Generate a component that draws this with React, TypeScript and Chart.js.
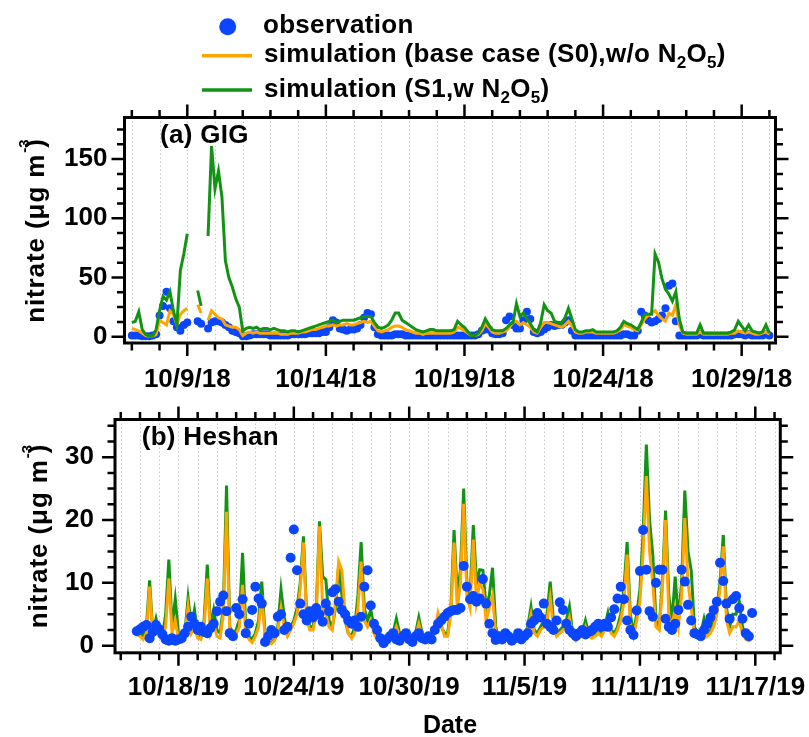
import React, { useEffect, useRef } from "react";
import { Chart, registerables } from "chart.js";

Chart.register(...registerables);

const FONT_FAMILY = "'Liberation Sans', Arial, Helvetica, sans-serif";
const BLUE = "#0a46ff";
const ORANGE = "#ffa500";
const GREEN = "#139313";

// ---------------- Panel (a) GIG : x = day of October 2018, 3-hourly from 10/7 00:00
const gigStartDay = 7;
const gigStepDays = 1 / 8;
const gigObs = [
  1, 1, 1, 0.5, 0.5, 0.5, 1, 2,
  18, 26, 38, 24, 13, 8, 5, 10,
  12, null, null, 13, 11, null, 7, 12,
  13, 13, 12, 10, 8, 5, 4, 3,
  0.5, 0.5, 1, 2, 2, 2, 2, 2,
  1, 1, 1, 1, 1, 1, 2, 2,
  2, 2, 2, 3, 3, 3, 3, 4,
  4, 8, 14, 12, 7, 6, 5, 6,
  6, 7, 10, 16, 20, 19, 8, 2,
  1, 1, 1, 1, 2, 2, 2, 1,
  1, 1, 1, 1, 1, 1, 1, 1,
  1, 1, 1, 1, 1, 1, 1, 1,
  1, 1, 1, 1, 2, 5, 6, 6,
  3, 2, 2, 3, 14, 17, 10, 7,
  7, 14, 21, 15, 4, 3, 4, 6,
  8, 10, 9, 10, 10, 12, 14, 5,
  1, 1, 1, 1, 1, 1, 1, 1,
  1, 1, 1, 1, 1, 1, 2, 2,
  1, 1, 5, 21, 18, 14, 12, 13,
  15, 18, 24, 43, 45, 13, 1, 1,
  1, 1, 1, 1, 2, 1, 1, 1,
  1, 1, 1, 1, 1, 1, 2, 2,
  2, 1, 2, 1, 1, 1, 1, 2,
  1,
];
const gigS0 = [
  7, 6, 5, 3, 1, 0.5, 0.5, 2,
  14, 12, 10, 22, 19, 10, 19, 22,
  24, null, null, 27, 20, null, 14, 22,
  19, 16, 15, 10, 9, 8, 8, 6,
  1, 3, 4, 3, 4, 3, 3, 3,
  3, 3, 3, 2, 2, 2, 3, 3,
  3, 4, 4, 5, 6, 6, 7, 8,
  9, 9, 10, 9, 10, 10, 11, 10,
  10, 11, 12, 13, 12, 13, 9, 5,
  4, 5, 6, 8, 9, 9, 8, 6,
  5, 4, 3, 3, 2, 3, 3, 3,
  3, 3, 3, 3, 3, 4, 8, 7,
  5, 3, 1, 1, 2, 5, 11, 8,
  4, 3, 3, 4, 5, 8, 12, 13,
  10, 12, 10, 8, 4, 3, 8, 12,
  12, 11, 10, 9, 8, 10, 13, 9,
  4, 3, 3, 4, 4, 4, 3, 3,
  3, 3, 3, 3, 4, 6, 10, 9,
  8, 6, 5, 10, 15, 18, 20, 22,
  18, 15, 13, 20, 18, 27, 10, 3,
  2, 2, 2, 2, 4, 2, 2, 2,
  2, 2, 2, 2, 2, 3, 3, 5,
  4, 3, 4, 3, 2, 2, 3, 4,
  2,
];
const gigS1 = [
  12, 13, 21, 6, 2, 0.5, 0.5, 6,
  22, 34, 31, 38, 22, 10, 56, 70,
  87, null, null, 39, 26, null, 85, 161,
  125, 140, 118, 64, 50, 42, 32, 25,
  5, 7, 8, 7, 8, 6, 7, 7,
  6, 7, 6, 5, 5, 4, 5, 5,
  4, 5, 6, 7, 8, 9, 10, 11,
  12, 13, 14, 12, 13, 14, 14, 14,
  14, 15, 16, 17, 17, 17, 12, 8,
  7, 8, 10, 14, 20, 20, 14, 12,
  10, 8, 6, 5, 4, 5, 6, 6,
  5, 5, 5, 5, 5, 6, 13, 10,
  8, 4, 1, 1, 3, 8, 15, 10,
  6, 5, 5, 5, 7, 10, 12, 28,
  17, 20, 15, 11, 6, 4, 12, 27,
  22, 20, 13, 12, 11, 16, 24, 15,
  6, 4, 4, 5, 5, 6, 4, 4,
  4, 4, 4, 4, 5, 8, 13, 11,
  10, 8, 6, 12, 19, 19, 19, 70,
  63, 49, 40, 36, 30, 38, 15, 4,
  3, 3, 3, 3, 10, 3, 3, 3,
  3, 3, 3, 3, 3, 4, 6, 13,
  9, 5, 10, 5, 4, 3, 4, 10,
  3,
];
const gigTimes = gigObs.map((_, i) => gigStartDay + i * gigStepDays);
const gigXTickDays = [9, 14, 19, 24, 29];
const gigXTickLabels = ["10/9/18", "10/14/18", "10/19/18", "10/24/18", "10/29/18"];
const gigXMinorDays = [7, 8, 9, 10, 11, 12, 13, 14, 15, 16, 17, 18, 19, 20, 21, 22, 23, 24, 25, 26, 27, 28, 29, 30];
const gigYTicks = [0, 50, 100, 150];
const gigYMinor = [0, 12.5, 25, 37.5, 50, 62.5, 75, 87.5, 100, 112.5, 125, 137.5, 150, 162.5, 175];

// ---------------- Panel (b) Heshan : x = day counted from 10/0/2019 (11/5 = 36), 4-hourly from 10/15 20:00
const heshanStartDay = 15 + 5 / 6;
const heshanStepDays = 1 / 6;
const heshanObs = [
  2.3,
  2.6, 3.0, 3.3, 1.2, 2.2, 3.3,
  2.6, 1.8, 1.0, 0.8, 1.2, 0.8,
  1.0, 1.2, 2.0, 3.0, 4.6, 3.5,
  2.5, 3.0, 2.2, 2.0, 2.8, 3.5,
  5.5, 7.0, 8.0, 5.5, 2.0, 1.5,
  6.0, 5.0, 7.4, 2.0, 3.5, 5.7,
  9.4, 7.5, 6.7, 0.6, 1.5, 2.5,
  2.0, 4.6, 5.0, 2.5, 3.0, 14.0,
  18.5, 12.0, 6.7, 5.0, 4.0, 5.5,
  4.5, 6.0, 5.0, 3.8, 6.7, 5.5,
  8.5, 9.0, 7.0, 5.7, 5.0, 4.0,
  3.5, 4.0, 3.0, 4.6, 9.4, 12.0,
  6.4, 3.5, 2.5, 1.2, 0.4, 1.0,
  1.5, 2.0, 1.0, 0.8, 1.5, 2.0,
  1.0, 0.6, 1.5, 2.0, 1.2, 1.0,
  1.5, 1.0, 2.5, 3.5, 4.0, 4.6,
  5.2, 5.5, 5.7, 5.7, 6.0, 12.7,
  9.4, 7.4, 7.9, 7.0, 7.5, 10.6,
  6.7, 3.5, 2.0, 0.9, 1.5, 1.0,
  2.0, 1.5, 0.8, 1.2, 2.0, 1.0,
  1.5, 2.0, 3.5, 4.0, 5.2, 4.5,
  6.7, 3.5, 3.0, 2.5, 4.0, 6.9,
  5.7, 3.5, 2.5, 2.0, 1.5, 2.0,
  2.5, 1.8, 2.2, 2.5, 3.0, 3.5,
  3.0, 3.5, 3.0, 4.5, 5.8, 7.5,
  9.4, 7.4, 4.0, 2.5, 1.7, 5.6,
  11.9, 18.4, 12.1, 5.5, 4.6, 10.0,
  12.1, 12.1, 4.3, 3.0, 2.5, 3.5,
  5.7, 12.1, 10.2, 6.5, 4.0, 2.0,
  1.8, 1.5, 2.5, 3.5, 4.5, 5.7,
  7.0, 13.2, 10.3, 6.7, 4.3, 7.4,
  7.9, 6.0, 4.3, 2.0, 1.5, 5.2,
  null,
];
const heshanS0 = [
  1.8,
  1.5, 1, 2, 9.4, 1.5, 3,
  1.5, 1, 3, 10.7, 2, 4,
  1, 0.6, 1.5, 6.2, 2, 3,
  1.2, 1, 3, 10.7, 2, 3.5,
  1.5, 1.2, 5, 21.3, 2, 1.5,
  1.8, 3, 9.7, 2, 1, 0.5,
  1.5, 3, 8, 1.5, 0.3, 0.3,
  0.8, 2.5, 6, 3, 1.5, 2.5,
  3.5, 5, 9, 16.4, 4, 2.5,
  2.5, 5, 19.0, 6, 5, 3,
  2.5, 7, 13.4, 12, 5, 2,
  1.2, 2, 6, 13.4, 4, 3,
  4, 2, 1, 0.4, 0.3, 1,
  1.2, 1.5, 3, 1.5, 0.8, 1,
  1.2, 0.8, 1.5, 3.5, 1.5, 0.8,
  1.2, 0.8, 2, 5.2, 3.5, 1.5,
  1.5, 5, 16.4, 6, 10, 22.6,
  8, 6, 16.9, 7, 10, 9,
  4, 6, 8, 2, 0.8, 0.6,
  0.8, 1.2, 0.8, 0.6, 1.2, 0.8,
  1.2, 2.5, 5, 2, 1.5, 2.5,
  3, 4, 7.6, 3, 1.5, 2,
  2.5, 3, 4.5, 1.5, 0.8, 1.2,
  1.5, 3, 1.5, 1.2, 1.5, 2,
  1.5, 2.5, 4, 2, 1.5, 2.5,
  4, 7, 14.5, 3, 1.5, 4,
  7, 15, 27, 15, 10, 3,
  2.5, 9, 20, 5, 3, 6,
  3, 8, 20.3, 10, 6, 2,
  1.5, 1.5, 3, 1.5, 2, 3,
  5, 9, 15.8, 4, 2, 3,
  3, 4, 2, 1, 0.8, 1.2,
  null,
];
const heshanS1 = [
  2.0,
  2.0, 1.5, 3, 10.4, 2, 4.3,
  2, 1.5, 5, 13.7, 3, 7.4,
  2, 1, 2, 7.6, 3, 5.7,
  2, 1.5, 4, 12.9, 3, 5.7,
  2.5, 2, 6, 25.5, 3, 2,
  2.5, 4, 14.8, 3, 1.5, 1,
  2, 4, 10.2, 2, 0.5, 0.5,
  1, 3, 8.9, 4.6, 2, 3,
  4, 6, 10, 17.4, 5, 3,
  3, 6, 19.8, 11, 10.5, 4,
  3, 6, 12.9, 8, 4, 2,
  1.5, 3, 8, 16.5, 6, 4,
  5.7, 3, 1.5, 0.6, 0.4, 1.5,
  1.5, 2, 4.3, 2, 1, 1.2,
  1.5, 1, 2, 4.5, 2, 1,
  1.5, 1, 2.5, 4, 3, 2,
  2, 6, 18.4, 8, 12, 25.0,
  10, 8, 19.2, 10, 12.1, 12,
  6, 8, 12.4, 3, 1, 0.8,
  1, 1.5, 1, 0.8, 1.5, 1,
  1.5, 3, 6.2, 2.5, 2, 3,
  4, 5, 10.2, 4, 2, 2.5,
  3, 4, 6.2, 2, 1, 1.5,
  2, 4, 2, 1.5, 2, 2.5,
  2, 3, 5.2, 2.5, 2, 3,
  5, 9, 16.5, 5, 2, 5,
  9, 18, 32, 20, 14.5, 4,
  3, 10, 21.5, 8, 4, 11,
  4, 10, 24.7, 15, 12, 3,
  2, 2, 4.3, 2, 2.5, 4,
  6, 10, 17.6, 6, 3, 5,
  5, 7, 3, 1.5, 1, 1.5,
  null,
];
const heshanTimes = heshanObs.map((_, i) => heshanStartDay + i * heshanStepDays);
const heshanXTickDays = [18, 24, 30, 36, 42, 48];
const heshanXTickLabels = ["10/18/19", "10/24/19", "10/30/19", "11/5/19", "11/11/19", "11/17/19"];
const heshanXMinorDays = [15, 16, 17, 18, 19, 20, 21, 22, 23, 24, 25, 26, 27, 28, 29, 30, 31, 32, 33, 34, 35, 36, 37, 38, 39, 40, 41, 42, 43, 44, 45, 46, 47, 48, 49];
const heshanYTicks = [0, 10, 20, 30];
const heshanYMinor = [0, 2.5, 5, 7.5, 10, 12.5, 15, 17.5, 20, 22.5, 25, 27.5, 30, 32.5, 35];

// ---------------- legend / titles text
const legendObs = "observation";
const legendS0 = "simulation (base case (S0),w/o N";
const legendS1 = "simulation (S1,w N";
const yTitleMain = "nitrate (\u03bcg m";
const yTitleSup = "-3";

function font(size: number) {
  return `bold ${size}px ${FONT_FAMILY}`;
}

type Part = { t: string; size: number; dy: number };

function drawParts(ctx: CanvasRenderingContext2D, parts: Part[], x: number, y: number) {
  let cx = x;
  for (const p of parts) {
    ctx.font = font(p.size);
    ctx.fillText(p.t, cx, y + p.dy);
    cx += ctx.measureText(p.t).width;
  }
}

function setSpacing(ctx: CanvasRenderingContext2D, px: number) {
  (ctx as any).letterSpacing = `${px}px`;
}

function drawYTitle(ctx: CanvasRenderingContext2D, baseX: number, centerY: number) {
  ctx.save();
  ctx.translate(baseX, centerY);
  ctx.rotate(-Math.PI / 2);
  ctx.fillStyle = "#000";
  ctx.textBaseline = "alphabetic";
  ctx.textAlign = "left";
  ctx.font = font(26);
  setSpacing(ctx, 0.9);
  const wMain = ctx.measureText(yTitleMain).width;
  const wParen = ctx.measureText(")").width;
  const total = wMain + 6 + wParen;
  const x0 = -total / 2;
  ctx.fillText(yTitleMain, x0, 0);
  ctx.fillText(")", x0 + wMain + 6, 0);
  setSpacing(ctx, 0);
  ctx.font = font(15);
  ctx.fillText(yTitleSup, x0 + wMain + 1, -15);
  ctx.restore();
}

type PanelSpec = {
  id: string;
  times: number[];
  obs: (number | null)[];
  s0: (number | null)[];
  s1: (number | null)[];
  xMin: number;
  xMax: number;
  yMin: number;
  yMax: number;
  xTicks: number[];
  xLabels: string[];
  xMinor: number[];
  yTicks: number[];
  yMinor: number[];
  xMajor: number[];
  padTop: number;
  padRight: number;
  yAxisWidth: number;
  xAxisHeight: number;
  yLabelPad: number;
  xLabelPad: number;
  obsRadius: number;
  obsOnTop: boolean;
  decorate: (ctx: CanvasRenderingContext2D) => void;
};

function makePlugin(p: PanelSpec) {
  return {
    id: "deco_" + p.id,
    beforeDatasetsDraw(chart: any) {
      const { ctx, chartArea: a, scales } = chart;
      const x = scales.x;
      ctx.save();
      ctx.strokeStyle = "#c8c8c8";
      ctx.lineWidth = 1;
      ctx.setLineDash([1.5, 2.5]);
      for (const d of p.xMinor) {
        const px = Math.round(x.getPixelForValue(d)) + 0.5;
        if (px <= a.left + 1 || px >= a.right - 1) continue;
        ctx.beginPath();
        ctx.moveTo(px, a.top);
        ctx.lineTo(px, a.bottom);
        ctx.stroke();
      }
      ctx.restore();
    },
    afterDraw(chart: any) {
      const { ctx, chartArea: a, scales } = chart;
      const x = scales.x;
      const y = scales.y;
      ctx.save();
      ctx.strokeStyle = "#000";
      ctx.setLineDash([]);
      ctx.lineWidth = 2.5;
      const MAJ = 13;
      const MIN = 7.5;
      for (const v of p.yMinor) {
        const py = y.getPixelForValue(v);
        const len = p.yTicks.includes(v) ? MAJ : MIN;
        ctx.beginPath();
        ctx.moveTo(a.left, py);
        ctx.lineTo(a.left - len, py);
        ctx.moveTo(a.right, py);
        ctx.lineTo(a.right + len, py);
        ctx.stroke();
      }
      for (const d of p.xMinor) {
        const px = x.getPixelForValue(d);
        const len = p.xMajor.includes(d) ? MAJ : MIN;
        ctx.beginPath();
        ctx.moveTo(px, a.top);
        ctx.lineTo(px, a.top - len);
        ctx.moveTo(px, a.bottom);
        ctx.lineTo(px, a.bottom + len);
        ctx.stroke();
      }
      ctx.lineWidth = 3;
      ctx.strokeRect(a.left, a.top, a.right - a.left, a.bottom - a.top);
      ctx.restore();
      ctx.save();
      ctx.fillStyle = "#000";
      p.decorate(ctx);
      ctx.restore();
    },
  };
}

function buildChart(canvas: HTMLCanvasElement, p: PanelSpec) {
  const tickFont = { family: FONT_FAMILY, size: 26, weight: "bold" as const, lineHeight: 1.2 };
  const obsData = p.times.map((t, i) => ({ x: t, y: p.obs[i] }));
  const s0Data = p.times.map((t, i) => ({ x: t, y: p.s0[i] }));
  const s1Data = p.times.map((t, i) => ({ x: t, y: p.s1[i] }));
  const datasets: any[] = [
    {
      label: "observation",
      data: obsData,
      showLine: false,
      pointRadius: p.obsRadius,
      pointBackgroundColor: BLUE,
      pointBorderColor: BLUE,
      pointBorderWidth: 0,
      borderColor: BLUE,
      order: p.obsOnTop ? 0 : 2,
    },
    {
      label: "S0",
      data: s0Data,
      borderColor: ORANGE,
      borderWidth: 3,
      pointRadius: 0,
      fill: false,
      spanGaps: false,
      tension: 0,
      order: 1,
    },
    {
      label: "S1",
      data: s1Data,
      borderColor: GREEN,
      borderWidth: 3,
      pointRadius: 0,
      fill: false,
      spanGaps: false,
      tension: 0,
      order: p.obsOnTop ? 2 : 0,
    },
  ];
  return new Chart(canvas, {
    type: "line",
    data: { datasets },
    options: {
      animation: false,
      responsive: false,
      events: [],
      layout: { padding: { top: p.padTop, right: p.padRight, left: 0, bottom: 0 } },
      plugins: { legend: { display: false }, tooltip: { enabled: false }, title: { display: false } },
      scales: {
        x: {
          type: "linear",
          min: p.xMin,
          max: p.xMax,
          grid: { display: false, drawTicks: false },
          border: { display: false },
          ticks: {
            font: tickFont,
            color: "#000",
            padding: p.xLabelPad,
            maxRotation: 0,
            minRotation: 0,
            autoSkip: false,
            callback: (_v: any, i: number) => p.xLabels[i] ?? "",
          },
          afterBuildTicks: (s: any) => {
            s.ticks = p.xTicks.map((v) => ({ value: v }));
          },
          afterFit: (s: any) => {
            s.height = p.xAxisHeight;
            s.paddingLeft = 0;
            s.paddingRight = 0;
          },
        },
        y: {
          type: "linear",
          min: p.yMin,
          max: p.yMax,
          grid: { display: false, drawTicks: false },
          border: { display: false },
          ticks: {
            font: tickFont,
            color: "#000",
            padding: p.yLabelPad,
            callback: (v: any) => String(v),
          },
          afterBuildTicks: (s: any) => {
            s.ticks = p.yTicks.map((v) => ({ value: v }));
          },
          afterFit: (s: any) => {
            s.width = p.yAxisWidth;
            s.paddingTop = 0;
            s.paddingBottom = 0;
          },
        },
      },
    } as any,
    plugins: [makePlugin(p)],
  });
}

const TOP_H = 395;
const BOT_H = 737 - TOP_H;

const gigPanel: PanelSpec = {
  id: "gig",
  times: gigTimes,
  obs: gigObs,
  s0: gigS0,
  s1: gigS1,
  xMin: 6.735,
  xMax: 30.22,
  yMin: -5.3,
  yMax: 185.1,
  xTicks: gigXTickDays,
  xLabels: gigXTickLabels,
  xMinor: gigXMinorDays,
  xMajor: gigXTickDays,
  yTicks: gigYTicks,
  yMinor: gigYMinor,
  padTop: 117.5,
  padRight: 809 - 775.5,
  yAxisWidth: 124.5,
  xAxisHeight: TOP_H - 343,
  yLabelPad: 17,
  xLabelPad: 21,
  obsRadius: 4,
  obsOnTop: false,
  decorate: (ctx) => {
    ctx.fillStyle = BLUE;
    ctx.beginPath();
    ctx.arc(227.7, 26.7, 8.5, 0, Math.PI * 2);
    ctx.fill();
    ctx.lineWidth = 3.5;
    ctx.strokeStyle = ORANGE;
    ctx.beginPath();
    ctx.moveTo(202, 55.7);
    ctx.lineTo(252, 55.7);
    ctx.stroke();
    ctx.strokeStyle = GREEN;
    ctx.beginPath();
    ctx.moveTo(202, 90);
    ctx.lineTo(252, 90);
    ctx.stroke();
    ctx.fillStyle = "#000";
    ctx.textAlign = "left";
    ctx.textBaseline = "alphabetic";
    setSpacing(ctx, 0.3);
    drawParts(ctx, [{ t: legendObs, size: 26, dy: 0 }], 263, 33.3);
    drawParts(
      ctx,
      [
        { t: legendS0, size: 26, dy: 0 },
        { t: "2", size: 17, dy: 6 },
        { t: "O", size: 26, dy: 0 },
        { t: "5", size: 17, dy: 6 },
        { t: ")", size: 26, dy: 0 },
      ],
      264,
      62
    );
    drawParts(
      ctx,
      [
        { t: legendS1, size: 26, dy: 0 },
        { t: "2", size: 17, dy: 6 },
        { t: "O", size: 26, dy: 0 },
        { t: "5", size: 17, dy: 6 },
        { t: ")", size: 26, dy: 0 },
      ],
      264,
      96.5
    );
    ctx.font = font(26);
    ctx.fillText("(a) GIG", 160, 143.3);
    setSpacing(ctx, 0);
    drawYTitle(ctx, 44, 230.5);
  },
};

const heshanPanel: PanelSpec = {
  id: "heshan",
  times: heshanTimes,
  obs: heshanObs,
  s0: heshanS0,
  s1: heshanS1,
  xMin: 14.7,
  xMax: 49.3,
  yMin: -1.13,
  yMax: 36.0,
  xTicks: heshanXTickDays,
  xLabels: heshanXTickLabels,
  xMinor: heshanXMinorDays,
  xMajor: heshanXTickDays,
  yTicks: heshanYTicks,
  yMinor: heshanYMinor,
  padTop: 419.5 - TOP_H,
  padRight: 809 - 780.3,
  yAxisWidth: 115,
  xAxisHeight: BOT_H - (652.8 - TOP_H),
  yLabelPad: 21,
  xLabelPad: 19.7,
  obsRadius: 5,
  obsOnTop: true,
  decorate: (ctx) => {
    ctx.textAlign = "left";
    ctx.textBaseline = "alphabetic";
    ctx.font = font(26);
    setSpacing(ctx, 0.3);
    ctx.fillText("(b) Heshan", 141.7, 445 - TOP_H);
    setSpacing(ctx, 0);
    drawYTitle(ctx, 46.5, 536 - TOP_H);
    ctx.textAlign = "center";
    ctx.textBaseline = "middle";
    ctx.font = font(25);
    ctx.fillText("Date", 450, 726 - TOP_H);
  },
};

export default function App() {
  const topRef = useRef<HTMLCanvasElement | null>(null);
  const botRef = useRef<HTMLCanvasElement | null>(null);

  useEffect(() => {
    const charts: Chart[] = [];
    if (topRef.current) charts.push(buildChart(topRef.current, gigPanel));
    if (botRef.current) charts.push(buildChart(botRef.current, heshanPanel));
    return () => {
      charts.forEach((c) => c.destroy());
    };
  }, []);

  return (
    <div style={{ position: "absolute", left: 0, top: 0, width: 809, height: 737, background: "#fff", overflow: "hidden" }}>
      <canvas
        ref={topRef}
        width={809}
        height={TOP_H}
        style={{ position: "absolute", left: 0, top: 0, width: 809, height: TOP_H }}
      />
      <canvas
        ref={botRef}
        width={809}
        height={BOT_H}
        style={{ position: "absolute", left: 0, top: TOP_H, width: 809, height: BOT_H }}
      />
    </div>
  );
}
